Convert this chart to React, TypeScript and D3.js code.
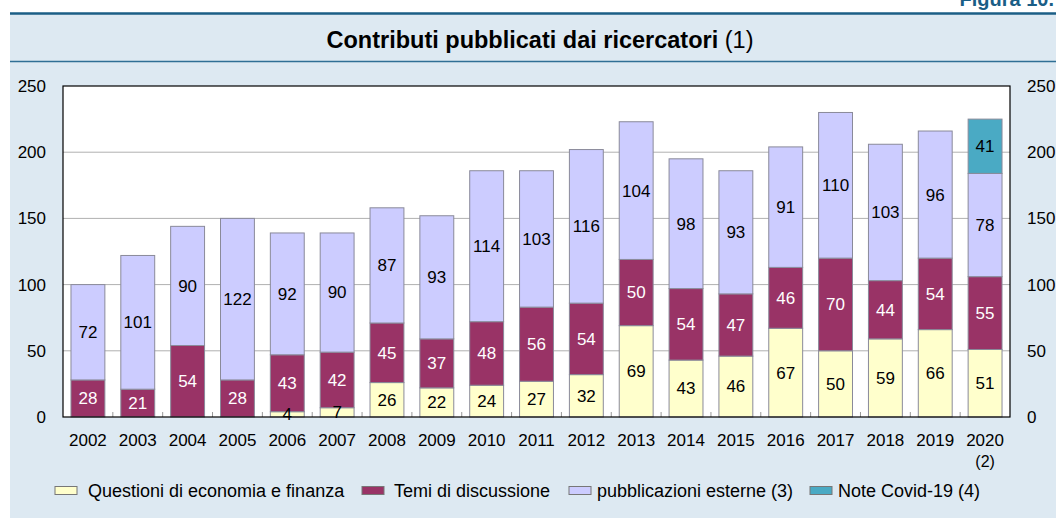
import React from "react";
import * as d3 from "d3";

const years = ["2002","2003","2004","2005","2006","2007","2008","2009","2010","2011","2012","2013","2014","2015","2016","2017","2018","2019","2020"];
const questioni = [0,0,0,0,4,7,26,22,24,27,32,69,43,46,67,50,59,66,51];
const temi = [28,21,54,28,43,42,45,37,48,56,54,50,54,47,46,70,44,54,55];
const esterne = [72,101,90,122,92,90,87,93,114,103,116,104,98,93,91,110,103,96,78];
const covid = [0,0,0,0,0,0,0,0,0,0,0,0,0,0,0,0,0,0,41];
const yTicks = [0,50,100,150,200,250];
const seriesNames = ["Questioni di economia e finanza","Temi di discussione","pubblicazioni esterne (3)","Note Covid-19 (4)"];
const seriesColors = ["#ffffcc","#993366","#ccccff","#4aaac4"];
const labelColors = ["#000","#fff","#000","#000"];

const W = 1056, H = 518;
const font = "'Liberation Sans', Arial, Helvetica, sans-serif";

export default function App() {
  const left = 63, right = 1010, top = 86, bottom = 417;
  const x = d3.scaleBand().domain(years).range([left, right]).paddingInner(0.32).paddingOuter(0.16);
  const y = d3.scaleLinear().domain([0, 250]).range([bottom, top]);
  const data = years.map((yr, i) => ({ yr, q: questioni[i], t: temi[i], e: esterne[i], c: covid[i] }));
  const stack = d3.stack<any>().keys(["q","t","e","c"])(data as any);
  const step = x.step();
  const legendX = [55, 362, 569, 810];
  const legendTextX = [88, 394, 597, 838];

  return (
    <svg width={W} height={H} style={{ position: "absolute", left: 0, top: 0 }} fontFamily={font}>
      <rect x={0} y={0} width={W} height={H} fill="#fff" />
      <rect x={10} y={13} width={W - 10} height={H - 13} fill="#dde9f2" />
      <line x1={10} x2={W} y1={13.5} y2={13.5} stroke="#1b5e86" strokeWidth={2.5} />
      <line x1={10} x2={W} y1={61.5} y2={61.5} stroke="#2f6f95" strokeWidth={1.5} />
      <text x={1054} y={6} textAnchor="end" fontSize={20} fontWeight="bold" fill="#1b5e86">Figura 10.</text>
      <text x={540} y={48} textAnchor="middle" fontSize={23.5}>
        <tspan fontWeight="bold">Contributi pubblicati dai ricercatori</tspan>
        <tspan> (1)</tspan>
      </text>
      <rect x={left} y={top} width={right - left} height={bottom - top} fill="#fff" />
      {yTicks.filter(t => t > 0 && t < 250).map(t => (
        <line key={t} x1={left} x2={right} y1={y(t)} y2={y(t)} stroke="#b0b0b0" strokeWidth={1} />
      ))}
      {years.slice(1).map((yr, i) => {
        const bx = left + (i + 1) * step;
        return <line key={yr} x1={bx} x2={bx} y1={bottom} y2={bottom - 5} stroke="#999" strokeWidth={1} />;
      })}
      {stack.map((s, si) => (
        <g key={si}>
          {s.map((d, i) => {
            const v = d[1] - d[0];
            if (v <= 0) return null;
            return (
              <rect key={i} x={x(years[i])!} width={x.bandwidth()} y={y(d[1])} height={y(d[0]) - y(d[1])}
                fill={seriesColors[si]} stroke="#8a8a9a" strokeWidth={1} />
            );
          })}
        </g>
      ))}
      {stack.map((s, si) => (
        <g key={"l" + si}>
          {s.map((d, i) => {
            const v = d[1] - d[0];
            if (v <= 0) return null;
            return (
              <text key={i} x={x(years[i])! + x.bandwidth() / 2} y={y((d[0] + d[1]) / 2)} dy="0.35em"
                textAnchor="middle" fontSize={17} fill={labelColors[si]}>{v}</text>
            );
          })}
        </g>
      ))}
      <rect x={left} y={top} width={right - left} height={bottom - top} fill="none" stroke="#000" strokeWidth={1.2} />
      {yTicks.map(t => (
        <g key={t}>
          <text x={46} y={y(t)} dy="0.35em" textAnchor="end" fontSize={17}>{t}</text>
          <text x={1027} y={y(t)} dy="0.35em" textAnchor="start" fontSize={17}>{t}</text>
        </g>
      ))}
      {years.map(yr => (
        <text key={yr} x={x(yr)! + x.bandwidth() / 2} y={446} textAnchor="middle" fontSize={17}>{yr}</text>
      ))}
      <text x={x("2020")! + x.bandwidth() / 2} y={467} textAnchor="middle" fontSize={16}>(2)</text>
      {seriesNames.map((n, i) => (
        <g key={n}>
          <rect x={legendX[i]} y={486.5} width={22} height={8} fill={seriesColors[i]} stroke="#777" strokeWidth={1} />
          <text x={legendTextX[i]} y={497} fontSize={18}>{n}</text>
        </g>
      ))}
    </svg>
  );
}
